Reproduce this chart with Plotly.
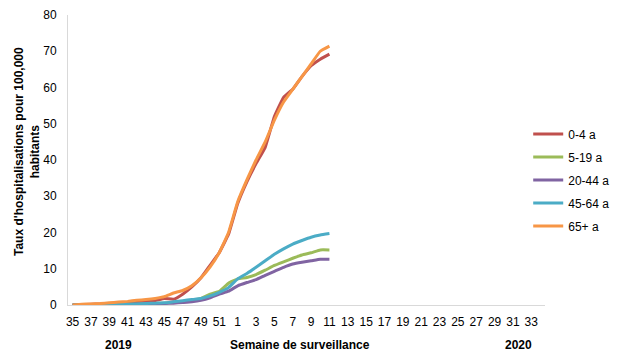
import plotly.graph_objects as go

weeks = [str(w) for w in list(range(35, 53)) + list(range(1, 35))]
data_weeks = [str(w) for w in list(range(35, 53)) + list(range(1, 12))]

series_names = ["0-4 a", "5-19 a", "20-44 a", "45-64 a", "65+ a"]
colors = ["#C0504D", "#9BBB59", "#8064A2", "#4BACC6", "#F79646"]

v_0_4 = [0, 0.1, 0.2, 0.3, 0.4, 0.5, 0.6, 0.8, 1.0, 1.2, 1.8, 1.6, 3.0, 5.0, 7.5, 11, 14.5, 19.5,
         28, 34, 39, 43.5, 52, 57.3, 59.5, 63, 66, 67.8, 69.2]
v_5_19 = [0, 0, 0, 0.1, 0.1, 0.1, 0.2, 0.2, 0.3, 0.4, 0.5, 0.7, 0.9, 1.3, 1.8, 3.0, 3.8, 6.0,
          7.2, 7.6, 8.4, 9.6, 10.9, 11.9, 12.9, 13.8, 14.4, 15.2, 15.2]
v_20_44 = [0, 0, 0, 0, 0.1, 0.1, 0.1, 0.2, 0.2, 0.3, 0.4, 0.5, 0.7, 0.9, 1.3, 2.0, 3.0, 3.8,
           5.3, 6.2, 7.0, 8.2, 9.3, 10.4, 11.3, 11.8, 12.2, 12.6, 12.6]
v_45_64 = [0, 0, 0.1, 0.1, 0.2, 0.2, 0.3, 0.3, 0.4, 0.5, 0.6, 0.9, 1.2, 1.5, 1.8, 2.5, 3.5, 4.8,
           7.2, 8.7, 10.4, 12.2, 14.0, 15.5, 16.8, 17.8, 18.7, 19.3, 19.7]
v_65 = [0, 0.2, 0.3, 0.4, 0.6, 0.8, 1.0, 1.3, 1.5, 1.8, 2.3, 3.3, 4.0, 5.3, 7.5, 10.5, 14.5, 20,
        28.5, 34.5, 40, 45, 51, 56, 59.5, 63, 66.5, 70, 71.4]
values = [v_0_4, v_5_19, v_20_44, v_45_64, v_65]

y_ticks = [0, 10, 20, 30, 40, 50, 60, 70, 80]

xpos = {w: i for i, w in enumerate(weeks)}

fig = go.Figure()
for name, col, vals in zip(series_names, colors, values):
    fig.add_trace(go.Scatter(
        x=[xpos[w] for w in data_weeks], y=vals, mode="lines", name=name,
        legendgroup=name,
        line=dict(color=col, width=3, shape="spline", smoothing=0.3),
    ))

tickvals = [i for i in range(0, len(weeks), 2)]
ticktext = [weeks[i] for i in tickvals]

# the page body adds an 8px offset; margins compensate for it
fig.update_layout(
    width=626, height=360,
    margin=dict(l=60, r=89, t=7, b=63, autoexpand=False),
    paper_bgcolor="white", plot_bgcolor="white",
    font=dict(family="Liberation Sans, Arial", size=12, color="#000000"),
    showlegend=True,
    legend=dict(xref="container", yref="container", x=0.831, y=0.522,
                xanchor="left", yanchor="middle",
                font=dict(size=12), itemwidth=30, tracegroupgap=4,
                bgcolor="rgba(0,0,0,0)"),
    xaxis=dict(range=[-0.5, len(weeks) - 0.5], tickvals=tickvals, ticktext=ticktext,
               showgrid=False, zeroline=False, showline=True, linecolor="#D9D9D9",
               linewidth=1, ticks="outside", ticklen=6, tickcolor="rgba(0,0,0,0)",
               tickfont=dict(size=12), automargin=False),
    yaxis=dict(range=[0, 80], tickvals=y_ticks, showgrid=False, zeroline=False,
               showline=True, linecolor="#D9D9D9", linewidth=1, ticks="outside",
               ticklen=8, tickcolor="rgba(0,0,0,0)", tickfont=dict(size=12),
               automargin=False),
)

fig.add_annotation(text="<b>Taux d'hospitalisations pour 100,000<br>habitants</b>",
                   xref="paper", yref="paper", x=0, y=0.5, xanchor="center",
                   yanchor="middle", textangle=-90, showarrow=False,
                   font=dict(size=12), align="center", xshift=-41, yshift=8)
fig.add_annotation(text="<b>2019</b>", xref="paper", yref="paper", x=0, y=0,
                   xshift=50, yshift=-40, showarrow=False, font=dict(size=12),
                   xanchor="center", yanchor="middle")
fig.add_annotation(text="<b>Semaine de surveillance</b>", xref="paper", yref="paper",
                   x=0, y=0, xshift=232, yshift=-40, showarrow=False, font=dict(size=12),
                   xanchor="center", yanchor="middle")
fig.add_annotation(text="<b>2020</b>", xref="paper", yref="paper", x=0, y=0,
                   xshift=450, yshift=-40, showarrow=False, font=dict(size=12),
                   xanchor="center", yanchor="middle")

fig.write_html("out.html")
